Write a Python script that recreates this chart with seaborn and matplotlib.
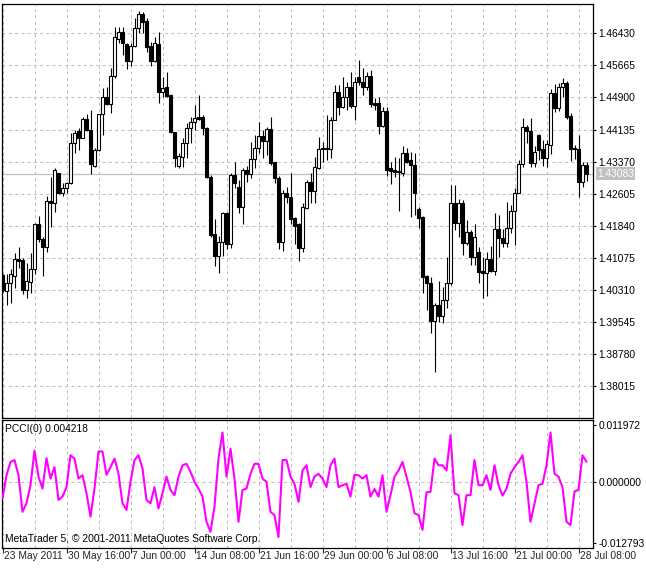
import numpy as np
import pandas as pd
import matplotlib
matplotlib.use("Agg")
import matplotlib.pyplot as plt
import matplotlib.transforms as mtransforms
import seaborn as sns

# EURUSD-like H8 candles
opens = [
    1.4066, 1.4028, 1.4047, 1.4064, 1.4105, 1.4102, 1.4031, 1.4050, 1.4081, 1.4188,
    1.4152, 1.4133, 1.4243, 1.4238, 1.4310, 1.4262, 1.4274, 1.4286, 1.4381, 1.4410,
    1.4393, 1.4439, 1.4412, 1.4326, 1.4365, 1.4450, 1.4491, 1.4474, 1.4541, 1.4629,
    1.4646, 1.4618, 1.4577, 1.4613, 1.4656, 1.4689, 1.4672, 1.4613, 1.4577, 1.4618,
    1.4503, 1.4515, 1.4496, 1.4408, 1.4326, 1.4348, 1.4381, 1.4417, 1.4431, 1.4443,
    1.4443, 1.4417, 1.4300, 1.4164, 1.4112, 1.4145, 1.4214, 1.4140, 1.4305, 1.4276,
    1.4229, 1.4317, 1.4307, 1.4343, 1.4369, 1.4398, 1.4386, 1.4415, 1.4336, 1.4298,
    1.4145, 1.4262, 1.4252, 1.4202, 1.4188, 1.4131, 1.4226, 1.4288, 1.4267, 1.4322,
    1.4369, 1.4369, 1.4367, 1.4436, 1.4503, 1.4467, 1.4491, 1.4515, 1.4470, 1.4539,
    1.4527, 1.4515, 1.4541, 1.4477, 1.4477, 1.4422, 1.4458, 1.4322, 1.4317, 1.4315,
    1.4310, 1.4357, 1.4341, 1.4329, 1.4224, 1.4205, 1.4064, 1.4047, 1.3957, 1.3995,
    1.3969, 1.4007, 1.4047, 1.4238, 1.4190, 1.4238, 1.4143, 1.4169, 1.4109, 1.4121,
    1.4076, 1.4071, 1.4105, 1.4076, 1.4176, 1.4155, 1.4143, 1.4179, 1.4219, 1.4262,
    1.4331, 1.4419, 1.4410, 1.4334, 1.4400, 1.4367, 1.4346, 1.4377, 1.4501, 1.4465,
    1.4515, 1.4524, 1.4446, 1.4369, 1.4367, 1.4288, 1.4329,
]
highs = [
    1.4069, 1.4069, 1.4081, 1.4119, 1.4133, 1.4107, 1.4095, 1.4119, 1.4190, 1.4207,
    1.4157, 1.4255, 1.4300, 1.4322, 1.4310, 1.4286, 1.4288, 1.4405, 1.4412, 1.4417,
    1.4443, 1.4450, 1.4460, 1.4369, 1.4450, 1.4513, 1.4515, 1.4560, 1.4658, 1.4658,
    1.4658, 1.4620, 1.4620, 1.4680, 1.4696, 1.4694, 1.4680, 1.4622, 1.4634, 1.4646,
    1.4539, 1.4551, 1.4498, 1.4408, 1.4357, 1.4393, 1.4429, 1.4443, 1.4472, 1.4496,
    1.4448, 1.4419, 1.4305, 1.4200, 1.4160, 1.4217, 1.4217, 1.4310, 1.4336, 1.4293,
    1.4322, 1.4326, 1.4384, 1.4400, 1.4431, 1.4412, 1.4419, 1.4443, 1.4336, 1.4303,
    1.4269, 1.4276, 1.4310, 1.4205, 1.4190, 1.4238, 1.4293, 1.4310, 1.4348, 1.4396,
    1.4384, 1.4448, 1.4443, 1.4520, 1.4520, 1.4539, 1.4527, 1.4551, 1.4539, 1.4579,
    1.4560, 1.4551, 1.4555, 1.4489, 1.4491, 1.4467, 1.4467, 1.4336, 1.4348, 1.4346,
    1.4374, 1.4369, 1.4360, 1.4357, 1.4229, 1.4207, 1.4066, 1.4062, 1.4000, 1.4052,
    1.4038, 1.4109, 1.4281, 1.4281, 1.4248, 1.4245, 1.4198, 1.4174, 1.4188, 1.4133,
    1.4109, 1.4121, 1.4136, 1.4214, 1.4210, 1.4176, 1.4241, 1.4233, 1.4274, 1.4341,
    1.4441, 1.4424, 1.4441, 1.4374, 1.4403, 1.4388, 1.4388, 1.4510, 1.4522, 1.4524,
    1.4536, 1.4529, 1.4453, 1.4377, 1.4400, 1.4336, 1.4336,
]
lows = [
    1.4026, 1.3995, 1.4000, 1.4035, 1.4083, 1.4021, 1.4012, 1.4023, 1.4069, 1.4145,
    1.4064, 1.4121, 1.4181, 1.4217, 1.4260, 1.4255, 1.4262, 1.4283, 1.4357, 1.4365,
    1.4393, 1.4410, 1.4307, 1.4324, 1.4362, 1.4400, 1.4472, 1.4453, 1.4536, 1.4620,
    1.4591, 1.4558, 1.4565, 1.4610, 1.4644, 1.4644, 1.4598, 1.4565, 1.4575, 1.4477,
    1.4491, 1.4491, 1.4405, 1.4324, 1.4322, 1.4324, 1.4346, 1.4381, 1.4412, 1.4436,
    1.4400, 1.4298, 1.4157, 1.4088, 1.4071, 1.4112, 1.4128, 1.4131, 1.4274, 1.4214,
    1.4188, 1.4288, 1.4298, 1.4322, 1.4357, 1.4346, 1.4353, 1.4329, 1.4286, 1.4128,
    1.4124, 1.4238, 1.4188, 1.4140, 1.4100, 1.4121, 1.4224, 1.4238, 1.4238, 1.4319,
    1.4336, 1.4341, 1.4346, 1.4436, 1.4448, 1.4465, 1.4460, 1.4465, 1.4436, 1.4520,
    1.4496, 1.4508, 1.4467, 1.4460, 1.4403, 1.4419, 1.4303, 1.4283, 1.4300, 1.4219,
    1.4303, 1.4334, 1.4205, 1.4210, 1.4179, 1.4023, 1.3983, 1.3928, 1.3835, 1.3954,
    1.3952, 1.3988, 1.4043, 1.4174, 1.4157, 1.4114, 1.4138, 1.4090, 1.4090, 1.4047,
    1.4012, 1.4016, 1.4074, 1.4066, 1.4109, 1.4133, 1.4133, 1.4167, 1.4138, 1.4262,
    1.4324, 1.4381, 1.4324, 1.4324, 1.4341, 1.4326, 1.4324, 1.4355, 1.4455, 1.4458,
    1.4491, 1.4439, 1.4338, 1.4343, 1.4252, 1.4276, 1.4291,
]
closes = [
    1.4031, 1.4047, 1.4069, 1.4105, 1.4100, 1.4031, 1.4052, 1.4081, 1.4188, 1.4152,
    1.4133, 1.4243, 1.4238, 1.4317, 1.4262, 1.4274, 1.4286, 1.4381, 1.4405, 1.4393,
    1.4439, 1.4412, 1.4331, 1.4365, 1.4450, 1.4491, 1.4474, 1.4541, 1.4634, 1.4646,
    1.4620, 1.4577, 1.4613, 1.4656, 1.4689, 1.4670, 1.4610, 1.4577, 1.4620, 1.4503,
    1.4513, 1.4493, 1.4408, 1.4346, 1.4350, 1.4381, 1.4417, 1.4431, 1.4441, 1.4439,
    1.4417, 1.4300, 1.4162, 1.4112, 1.4145, 1.4214, 1.4140, 1.4305, 1.4286, 1.4229,
    1.4317, 1.4307, 1.4343, 1.4369, 1.4398, 1.4386, 1.4415, 1.4334, 1.4298, 1.4145,
    1.4262, 1.4252, 1.4200, 1.4183, 1.4131, 1.4229, 1.4288, 1.4267, 1.4324, 1.4367,
    1.4367, 1.4367, 1.4436, 1.4503, 1.4467, 1.4491, 1.4515, 1.4470, 1.4527, 1.4527,
    1.4515, 1.4541, 1.4474, 1.4472, 1.4422, 1.4458, 1.4317, 1.4315, 1.4312, 1.4312,
    1.4357, 1.4336, 1.4329, 1.4262, 1.4202, 1.4062, 1.4047, 1.3957, 1.3995, 1.3969,
    1.4007, 1.4047, 1.4238, 1.4190, 1.4238, 1.4143, 1.4169, 1.4109, 1.4157, 1.4074,
    1.4071, 1.4105, 1.4076, 1.4176, 1.4155, 1.4143, 1.4179, 1.4219, 1.4262, 1.4331,
    1.4419, 1.4410, 1.4334, 1.4360, 1.4365, 1.4346, 1.4379, 1.4501, 1.4465, 1.4515,
    1.4524, 1.4443, 1.4367, 1.4367, 1.4288, 1.4329, 1.43083,
]
pcci = [
    -0.0035, 0.0014, 0.0042, 0.0046, 0.0014, -0.0063, -0.0045, -0.0007, 0.0066, 0.0011,
    -0.0014, 0.0050, 0.0007, 0.0031, -0.0038, -0.0031, -0.0011, 0.0056, 0.0049, 0.0007,
    0.0014, -0.0024, -0.0073, -0.0014, 0.0064, 0.0064, 0.0015, 0.0031, 0.0049, 0.0017,
    -0.0045, -0.0059, 0.0000, 0.0046, 0.0056, 0.0028, -0.0038, -0.0045, -0.0011, -0.0056,
    -0.0024, 0.0011, -0.0017, -0.0028, 0.0011, 0.0035, 0.0038, 0.0021, 0.0000, -0.0014,
    -0.0031, -0.0084, -0.0105, -0.0052, 0.0049, 0.0104, 0.0011, 0.0070, 0.0007, -0.0084,
    -0.0017, -0.0014, 0.0017, 0.0038, 0.0038, 0.0007, 0.0000, -0.0063, -0.0070, -0.0116,
    0.0046, 0.0046, 0.0011, -0.0004, -0.0042, 0.0024, 0.0035, -0.0011, 0.0011, 0.0017,
    0.0007, -0.0011, 0.0035, 0.0049, -0.0011, -0.0007, -0.0004, -0.0031, 0.0015, 0.0014,
    0.0007, 0.0014, -0.0031, -0.0015, -0.0031, 0.0014, -0.0063, -0.0028, 0.0011, 0.0024,
    0.0042, 0.0011, -0.0021, -0.0066, -0.0070, -0.0101, -0.0022, -0.0021, 0.0049, 0.0035,
    0.0035, 0.0024, 0.0098, -0.0024, -0.0028, -0.0091, -0.0028, -0.0028, 0.0046, -0.0007,
    -0.0007, 0.0014, -0.0017, 0.0035, -0.0007, -0.0029, -0.0014, 0.0017, 0.0031, 0.0042,
    0.0056, 0.0000, -0.0084, -0.0045, -0.0007, -0.0004, 0.0035, 0.0104, 0.0017, 0.0011,
    -0.0011, -0.0084, -0.0091, -0.0020, -0.0017, 0.0056, 0.004218,
]

price_ticks = [1.38015, 1.38780, 1.39545, 1.40310, 1.41075, 1.41840,
               1.42605, 1.43370, 1.44135, 1.44900, 1.45665, 1.46430]
pcci_ticks = [-0.012793, 0.0, 0.011972]
time_labels = ["23 May 2011", "30 May 16:00", "7 Jun 00:00", "14 Jun 08:00",
               "21 Jun 16:00", "29 Jun 00:00", "6 Jul 08:00", "13 Jul 16:00",
               "21 Jul 00:00", "28 Jul 08:00"]
last_price = 1.43083
last_pcci = 0.004218

df = pd.DataFrame({"open": opens, "high": highs, "low": lows, "close": closes, "pcci": pcci})
df["bar"] = np.arange(len(df))

sns.set_style("white")
plt.rcParams["font.family"] = ["Liberation Sans", "DejaVu Sans"]
FS = 7.4
GRID = "#c0c0c0"

W, H = 646, 569
fig = plt.figure(figsize=(W / 100, H / 100), dpi=100)
ax = fig.add_axes([2 / W, 1 - 418 / H, 591 / W, 414 / H])
ax2 = fig.add_axes([2 / W, 1 - 548 / H, 591 / W, 128 / H], sharex=ax)

# --- candles ---
up = df["close"] >= df["open"]
body_lo = np.minimum(df["open"], df["close"])
body_h = np.maximum((df["close"] - df["open"]).abs(), 0.00004)
ax.vlines(df["bar"], df["low"], df["high"], color="black", lw=0.8, zorder=3)
ax.bar(df["bar"][up], body_h[up], bottom=body_lo[up], width=0.6,
       color="white", edgecolor="black", linewidth=0.8, zorder=4)
ax.bar(df["bar"][~up], body_h[~up], bottom=body_lo[~up], width=0.6,
       color="black", edgecolor="black", linewidth=0.8, zorder=4)
ax.axhline(last_price, color=GRID, lw=0.9, zorder=1)

# --- indicator ---
sns.lineplot(data=df, x="bar", y="pcci", ax=ax2, color="#ff00ff", linewidth=1.5, zorder=3)
ax2.axhline(0, color=GRID, lw=0.75, ls=(0, (3, 3)), zorder=1)

# shared x axis
ax.set_xlim(-0.125, 147.625)
major = np.arange(0, len(df), 16)
minor = np.arange(8, len(df), 16)
for a in (ax, ax2):
    a.set_xticks(major)
    a.set_xticks(minor, minor=True)
    a.grid(True, axis="x", which="both", color=GRID, lw=0.75, ls=(0, (3, 3)))
    a.set_axisbelow(True)
    a.yaxis.tick_right()
    a.set_xlabel("")
    a.set_ylabel("")
    for s in a.spines.values():
        s.set_linewidth(0.9)
        s.set_color("black")
    a.tick_params(axis="y", which="major", length=2.5, width=0.8, direction="out",
                  pad=1.5, labelsize=FS, colors="black", right=True, left=False)

ax.grid(True, axis="y", color=GRID, lw=0.75, ls=(0, (3, 3)))
ax.tick_params(axis="x", which="both", length=0, labelbottom=False)
ax.set_ylim(1.37252, 1.47130)
ax.set_yticks(price_ticks)
ax.set_yticklabels([f"{t:.5f}" for t in price_ticks])

ax2.set_ylim(-0.013915, 0.013024)
ax2.set_yticks(pcci_ticks)
ax2.set_yticklabels([f"{t:.6f}" for t in pcci_ticks])
ax2.tick_params(axis="x", which="major", length=3.6, width=0.8, direction="out",
                pad=-1.2, labelsize=FS, bottom=True)
ax2.tick_params(axis="x", which="minor", length=0)
ax2.set_xticklabels(time_labels)
shift = mtransforms.ScaledTranslation(2 / 100, 0, fig.dpi_scale_trans)
for lbl in ax2.get_xticklabels():
    lbl.set_horizontalalignment("left")
    lbl.set_transform(lbl.get_transform() + shift)

# last price tag
ax.annotate(f"{last_price:.5f}", xy=(1, last_price), xycoords=("axes fraction", "data"),
            xytext=(3, 0), textcoords="offset points", ha="left", va="center",
            fontsize=FS, color="white", annotation_clip=False,
            bbox=dict(boxstyle="square,pad=0.12", fc=GRID, ec="none"))

ax2.text(0.005, 0.965, f"PCCI(0) {last_pcci:.6f}", transform=ax2.transAxes,
         ha="left", va="top", fontsize=FS, color="black")
ax2.text(0.005, 0.035, "MetaTrader 5, \u00a9 2001-2011 MetaQuotes Software Corp.",
         transform=ax2.transAxes, ha="left", va="bottom", fontsize=FS, color="black")

fig.savefig("out.png", dpi=100, facecolor="white")
